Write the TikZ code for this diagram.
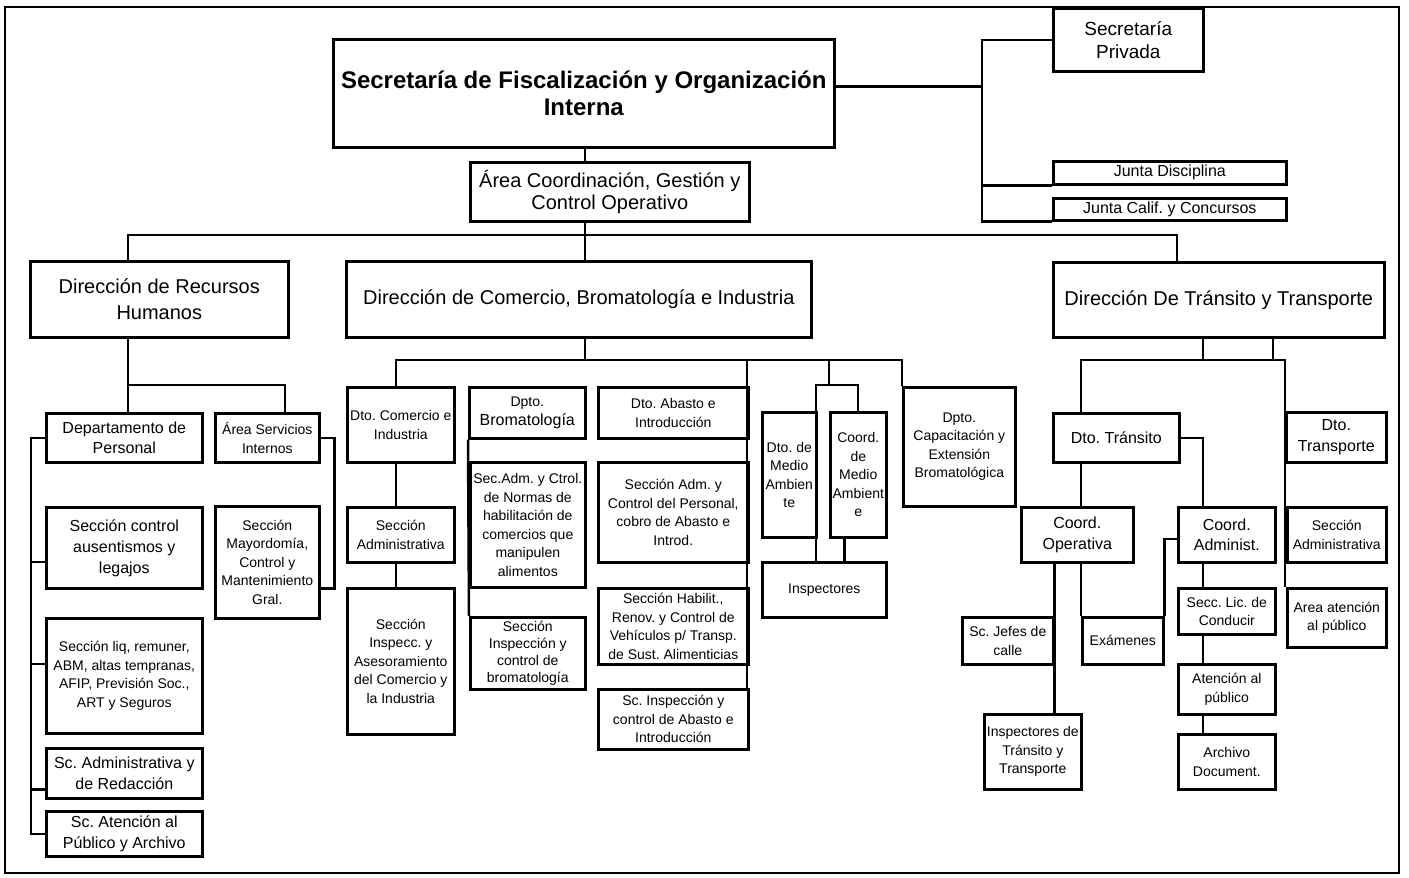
\documentclass[tikz,border=0pt]{standalone}
\usepackage{fontspec}
\setmainfont{Liberation Sans}
\frenchspacing
\begin{document}
\begin{tikzpicture}[x=1pt, y=-1pt, line width=2.5pt,
  caja/.style={draw, line width=2.6pt, anchor=north west, align=center, inner sep=1pt},
  t14/.style={font=\fontsize{14}{18.5}\selectfont},
  t16/.style={font=\fontsize{16}{20.5}\selectfont},
  t20/.style={font=\fontsize{20}{25}\selectfont}]
\useasboundingbox (0,0) rectangle (1409,878);
\draw[line width=2pt] (5,7) rectangle (1399,873);
% cabecera
\node[caja, minimum width=501, minimum height=108, font=\fontsize{24}{27}\selectfont\bfseries] (titulo) at (332,38) {Secretaría de Fiscalización y Organización\\Interna};
\node[caja, minimum width=150, minimum height=63, font=\fontsize{19}{23}\selectfont] (privada) at (1052,7) {Secretaría\\Privada};
\node[caja, t16, minimum width=233, minimum height=23] (junta1) at (1052,160) {Junta Disciplina};
\node[caja, t16, minimum width=233, minimum height=22] (junta2) at (1052,197) {Junta Calif. y Concursos};
\node[caja, font=\fontsize{20}{21.5}\selectfont, minimum width=279, minimum height=59] (area) at (469,161) {Área Coordinación, Gestión y\\Control Operativo};
% direcciones
\node[caja, font=\fontsize{20}{26}\selectfont, minimum width=258, minimum height=76] (rh) at (29,260) {Dirección de Recursos\\Humanos};
\node[caja, t20, minimum width=465, minimum height=76] (comercio) at (345,260) {Dirección de Comercio, Bromatología e Industria};
\node[caja, t20, minimum width=331, minimum height=75] (transito) at (1052,261) {Dirección De Tránsito y Transporte};
% recursos humanos
\node[caja, t16, minimum width=156, minimum height=49] (personal) at (45,412) {Departamento de\\Personal};
\node[caja, t14, minimum width=104, minimum height=49] (servicios) at (214,412) {Área Servicios\\Internos};
\node[caja, font=\fontsize{16}{21}\selectfont, minimum width=156, minimum height=81] (ausent) at (45,506) {Sección control\\ausentismos y\\legajos};
\node[caja, t14, minimum width=156, minimum height=115] (liq) at (45,617) {Sección liq, remuner,\\ABM, altas tempranas,\\AFIP, Previsión Soc.,\\ART y Seguros};
\node[caja, t16, minimum width=156, minimum height=50] (redac) at (45,747) {Sc. Administrativa y\\de Redacción};
\node[caja, t16, minimum width=156, minimum height=45] (atenpub) at (45,810) {Sc. Atención al\\Público y Archivo};
\node[caja, t14, minimum width=104, minimum height=112] (mayord) at (214,505) {Sección\\Mayordomía,\\Control y\\Mantenimiento\\Gral.};
% comercio
\node[caja, t14, minimum width=107, minimum height=75] (comerind) at (346,386) {Dto. Comercio e\\Industria};
\node[caja, t14, minimum width=107, minimum height=55] (secadm) at (346,506) {Sección\\Administrativa};
\node[caja, t14, minimum width=107, minimum height=146] (secinsp) at (346,587) {Sección\\Inspecc. y\\Asesoramiento\\del Comercio y\\la Industria};
\node[caja, t14, minimum width=116, minimum height=51] (dptobroma) at (468,386) {Dpto.\\{\fontsize{16}{20}\selectfont Bromatología}};
\node[caja, t14, minimum width=115, minimum height=125] (secnormas) at (469,461) {Sec.Adm. y Ctrol.\\de Normas de\\habilitación de\\comercios que\\manipulen\\alimentos};
\node[caja, font=\fontsize{14}{17}\selectfont, minimum width=115, minimum height=72] (secbroma) at (469,616) {Sección\\Inspección y\\control de\\bromatología};
\node[caja, t14, minimum width=150, minimum height=51] (abasto) at (597,386) {Dto. Abasto e\\Introducción};
\node[caja, t14, minimum width=150, minimum height=100] (secabasto) at (597,461) {Sección Adm. y\\Control del Personal,\\cobro de Abasto e\\Introd.};
\node[caja, t14, minimum width=150, minimum height=76] (habilit) at (597,587) {Sección Habilit.,\\Renov. y Control de\\Vehículos p/ Transp.\\de Sust. Alimenticias};
\node[caja, t14, minimum width=150, minimum height=60] (scabasto) at (597,688) {Sc. Inspección y\\control de Abasto e\\Introducción};
\node[caja, t14, minimum width=54, minimum height=125] (dtoma) at (761,411) {Dto. de\\Medio\\Ambien\\te};
\node[caja, t14, minimum width=56, minimum height=125] (coordma) at (829,411) {Coord.\\de\\Medio\\Ambient\\e};
\node[caja, t14, minimum width=124, minimum height=55] (inspect) at (761,561) {Inspectores};
\node[caja, t14, minimum width=112, minimum height=119] (capacit) at (902,386) {Dpto.\\Capacitación y\\Extensión\\Bromatológica};
% transito y transporte
\node[caja, t16, minimum width=126, minimum height=49] (dtotran) at (1052,412) {Dto. Tránsito};
\node[caja, t16, minimum width=100, minimum height=50] (dtotransp) at (1285,411) {Dto.\\Transporte};
\node[caja, t14, minimum width=99, minimum height=55] (transadm) at (1286,506) {Sección\\Administrativa};
\node[caja, t14, minimum width=99, minimum height=59] (atenarea) at (1286,587) {Area atención\\al público};
\node[caja, t16, minimum width=112, minimum height=55] (coordop) at (1020,506) {Coord.\\Operativa};
\node[caja, t16, minimum width=97, minimum height=55] (coordadm) at (1177,506) {Coord.\\Administ.};
\node[caja, t14, minimum width=91, minimum height=47] (jefes) at (961,616) {Sc. Jefes de\\calle};
\node[caja, t14, minimum width=81, minimum height=47] (examenes) at (1081,616) {Exámenes};
\node[caja, t14, minimum width=97, minimum height=46] (secclic) at (1177,587) {Secc. Lic. de\\Conducir};
\node[caja, t14, minimum width=97, minimum height=50] (atenal) at (1177,663) {Atención al\\público};
\node[caja, t14, minimum width=97, minimum height=55] (archivo) at (1177,733) {Archivo\\Document.};
\node[caja, t14, minimum width=97, minimum height=75] (insptran) at (983,713) {Inspectores de\\Tránsito y\\Transporte};
% ejes
\coordinate (ejeC) at (585,0);
\coordinate (ejeS) at (982,0);
\coordinate (tE) at ([yshift=7pt]titulo.east);
\coordinate (b1) at (128,235);
\coordinate (b2) at (1177,235);
\coordinate (r1) at (128,385);
\coordinate (r2) at (285,385);
\coordinate (c0) at (585,360);
\coordinate (c1) at (396,360);
\coordinate (c2) at (902,360);
\coordinate (c3) at (747,360);
\coordinate (m0) at (829,360);
\coordinate (m1) at (816,385);
\coordinate (m2) at (858,385);
\coordinate (t1) at (1081,360);
\coordinate (t2) at (1285,360);
\coordinate (t3) at (1203,360);
\coordinate (t4) at (1273,360);
\coordinate (ma) at ([xshift=-14pt]coordma.south);
% conexiones
\draw (ejeC |- titulo.south) -- (ejeC |- area.north);
\draw (ejeC |- area.south) -- (ejeC |- comercio.north);
\draw (tE) -- (ejeS |- tE);
\draw (privada.west) -- (ejeS |- privada.west) -- (ejeS |- junta2.south) -- (junta2.south west);
\draw (ejeS |- junta1.south) -- (junta1.south west);
\draw (b1 |- rh.north) -- (b1) -- (b2) -- (b2 |- transito.north);
% recursos humanos
\draw (r1 |- rh.south) -- (r1 |- personal.north);
\draw (r1) -- (r2) -- (r2 |- servicios.north);
\draw (personal.west) -- ++(-14,0) |- (atenpub.west);
\draw ([yshift=-14pt]ausent.west) -- ++(-14,0);
\draw ([yshift=12pt]liq.west) -- ++(-14,0);
\draw ([yshift=-16pt]redac.west) -- ++(-14,0);
\draw (servicios.east) -- ++(14,0) |- ([yshift=-26pt]mayord.east);
% comercio
\draw (c0 |- comercio.south) -- (c0);
\draw (c1 |- comerind.north) -- (c1) -- (c2) -- (c2 |- capacit.north);
\draw (c1 |- comerind.south) -- (c1 |- secadm.north);
\draw (c1 |- secadm.south) -- (c1 |- secinsp.north);
\draw (dptobroma.south west) -- (secbroma.north west);
\draw (c3) -- (c3 |- scabasto.north);
\draw (m0) -- (m0 |- m1);
\draw (m1 |- inspect.north) -- (m1) -- (m2) -- (m2 |- coordma.north);
\draw (ma) -- (ma |- inspect.north);
% transito
\draw (t3 |- transito.south) -- (t3);
\draw (t4 |- transito.south) -- (t4);
\draw (t1 |- dtotran.north) -- (t1) -- (t2) -- (t2 |- atenarea.north);
\draw (t1 |- dtotran.south) -- (t1 |- coordop.north);
\draw (dtotran.east) -- (t3 |- dtotran.east) -- (t3 |- coordadm.north);
\draw (jefes.north east |- coordop.south) -- (jefes.north east |- insptran.north);
\draw (t1 |- coordop.south) -- (t1 |- examenes.north);
\draw ([yshift=-4pt]coordadm.west) -| (examenes.north east);
\draw (t3 |- coordadm.south) -- (t3 |- secclic.north);
\draw (t3 |- secclic.south) -- (t3 |- atenal.north);
\draw (t3 |- atenal.south) -- (t3 |- archivo.north);
\end{tikzpicture}
\end{document}
